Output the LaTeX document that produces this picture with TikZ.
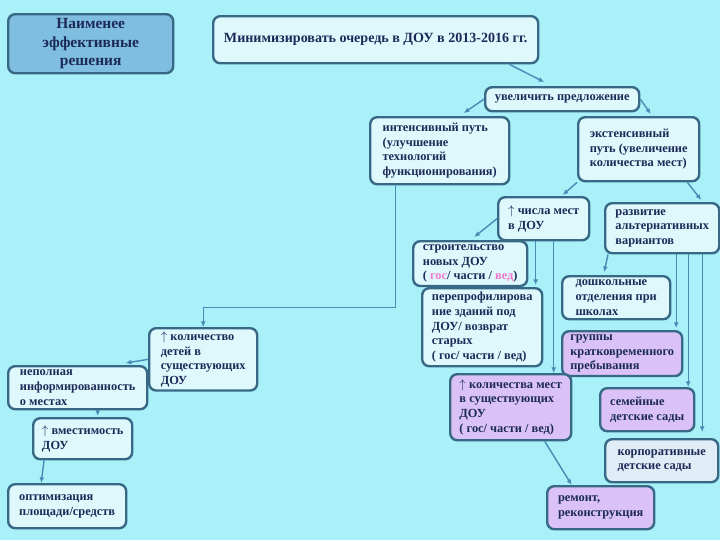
\documentclass[tikz,border=0pt]{standalone}
\usepackage{fontspec}
\setmainfont{Liberation Serif}
\usepackage{tikz}
\usetikzlibrary{arrows.meta,calc}

\definecolor{bgcyan}{RGB}{170,240,248}
\definecolor{boxfill}{RGB}{222,248,252}
\definecolor{worstfill}{RGB}{128,190,225}
\definecolor{lilac}{RGB}{218,194,246}
\definecolor{corpfill}{RGB}{224,236,246}
\definecolor{boxline}{RGB}{55,105,135}
\definecolor{arrowc}{RGB}{70,140,180}
\definecolor{txt}{RGB}{28,42,88}
\definecolor{pinky}{RGB}{240,120,205}

\tikzset{
    box/.style={draw=boxline, line width=1.7pt, rounded corners=5pt, fill=boxfill,
        text=txt, align=left, inner sep=2.5pt, anchor=north west,
        font=\bfseries\fontsize{8.8}{10.4}\selectfont},
    lilacbox/.style={box, fill=lilac},
    sz/.style 2 args={minimum width=#1*0.025cm, minimum height=#2*0.025cm},
    arr/.style={draw=arrowc, line width=1pt, -{Latex[length=4pt,width=3.5pt]}},
    thinarr/.style={arr, line width=0.6pt}
}

\begin{document}
\begin{tikzpicture}[x=0.025cm,y=-0.025cm]
    % Background
    \useasboundingbox (0,0) rectangle (720,540);
    \fill[bgcyan] (0,0) rectangle (720,540);

    % Top boxes
    \node[box, sz={165}{59}, fill=worstfill, align=center, inner sep=1pt,
        font=\bfseries\fontsize{11}{13}\selectfont] (worst) at (7,13) {Наименее\\эффективные\\решения};
    \node[box, sz={325}{47}, align=center,
        font=\bfseries\fontsize{10}{12}\selectfont] (goal) at (212,15) {Минимизировать очередь в ДОУ в 2013-2016 гг.};
    \node[box, sz={154}{24}] (offer) at (484,86) {увеличить предложение};

    % Two ways
    \node[box, sz={139}{67}] (intensive) at (369,116) {интенсивный путь\\(улучшение\\технологий\\функционирования)};
    \node[box, sz={121}{64}] (extensive) at (577,116) {экстенсивный\\путь (увеличение\\количества мест)};

    % Extensive branch
    \node[box, sz={91}{43}] (seats) at (497,196) {$\uparrow$ числа мест\\в ДОУ};
    \node[box, sz={114}{50}] (alt) at (604,202) {развитие\\альтернативных\\вариантов};
    \node[box, sz={114}{43}] (newbuild) at (412,240) {строительство\\новых ДОУ\\( {\color{pinky}гос}/ части / {\color{pinky}вед})};
    \node[box, sz={120}{78}] (reprofile) at (421,287) {перепрофилирова\\ние зданий под\\ДОУ/ возврат\\старых\\( гос/ части / вед)};
    \node[box, sz={108}{43}] (preschool) at (561,275) {дошкольные\\отделения при\\школах};
    \node[lilacbox, sz={120}{42}] (groups) at (561,330) {группы\\кратковременного\\пребывания};
    \node[lilacbox, sz={121}{66}] (existing) at (449,373) {$\uparrow$ количества мест\\в существующих\\ДОУ\\( гос/ части / вед)};
    \node[lilacbox, sz={94}{43}] (family) at (599,387) {семейные\\детские сады};
    \node[box, sz={113}{43}, fill=corpfill] (corp) at (604,438) {корпоративные\\детские сады};
    \node[lilacbox, sz={107}{43}] (repair) at (546,485) {ремонт,\\реконструкция};

    % Intensive branch
    \node[box, sz={108}{59}] (kids) at (148,327) {$\uparrow$ количество\\детей в\\существующих\\ДОУ};
    \node[box, sz={139}{43}] (info) at (7,365) {неполная\\информированность\\ о местах};
    \node[box, sz={99}{41}] (capacity) at (32,417) {$\uparrow$ вместимость\\ДОУ};
    \node[box, sz={118}{44}] (optim) at (7,483) {оптимизация\\площади/средств};

    % Helper points for the straight drops
    \coordinate (s1) at ($(seats.south)+(-8,0)$);
    \coordinate (s2) at ($(seats.south)+(10,0)$);
    \coordinate (a1) at ($(alt.south)+(14,0)$);
    \coordinate (a2) at ($(alt.south)+(26,0)$);
    \coordinate (a3) at ($(alt.south)+(40,0)$);
    \coordinate (i1) at ($(info.south)+(20,0)$);

    % Connectors
    \draw[arr] ($(goal.south east)+(-30,0)$) -- ($(offer.north)+(-18,-4)$);
    \draw[arr] (offer.west) -- ($(intensive.north)+(24,-3)$);
    \draw[arr] (offer.east) -- ($(extensive.north)+(12,-2)$);
    \draw[thinarr] ($(intensive.south west)+(26,0)$) |- ($(kids.north)+(0,-20)$) -- (kids.north);
    \draw[arr] (extensive.south west) -- ($(seats.north)+(19,-1)$);
    \draw[arr] ($(extensive.south east)+(-13,0)$) -- ($(alt.north)+(39,-2)$);
    \draw[arr] (seats.west) -- ($(newbuild.north)+(4,-3)$);
    \draw[arr] (s1) -- ($(s1 |- reprofile.north)+(0,-2)$);
    \draw[thinarr] (s2) -- (s2 |- existing.north);
    \draw[arr] ($(alt.south west)+(4,0)$) -- ($(preschool.north)+(-12,-3)$);
    \draw[thinarr] (a1) -- ($(a1 |- groups.north)+(0,-2)$);
    \draw[arr] (a2) -- (a2 |- family.north);
    \draw[arr] (a3) -- ($(a3 |- corp.north)+(0,-6)$);
    \draw[arr] ($(existing.south)+(34,0)$) -- ($(repair.north)+(-29,0)$);
    \draw[arr] (kids.west) -- ($(info.north)+(48,-2)$);
    \draw[arr] (i1) -- ($(i1 |- capacity.north)+(0,-1)$);
    \draw[arr] ($(capacity.south west)+(12,0)$) -- ($(optim.north)+(-26,0)$);
\end{tikzpicture}
\end{document}
